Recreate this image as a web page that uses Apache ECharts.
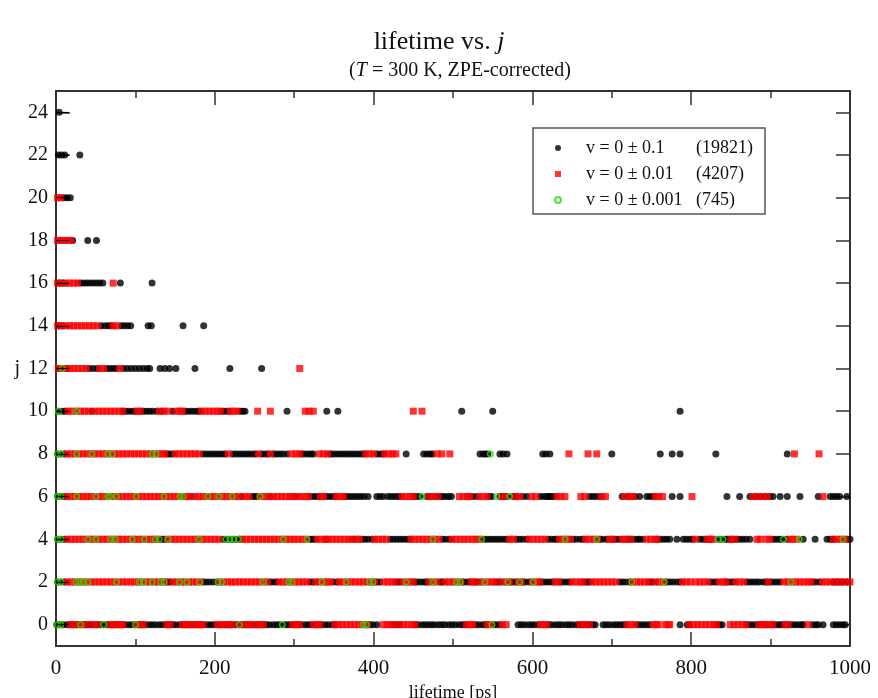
<!DOCTYPE html>
<html><head><meta charset="utf-8">
<script src="https://cdn.jsdelivr.net/npm/echarts@6/dist/echarts.min.js"></script>
<style>html,body{margin:0;padding:0;background:#fff}#c{width:878px;height:698px}</style>
</head><body><div id="c"></div>
<script>
// j rows (y values)
const rows = [0, 2, 4, 6, 8, 10, 12, 14, 16, 18, 20, 22, 24];
const yTicks = [0, 2, 4, 6, 8, 10, 12, 14, 16, 18, 20, 22, 24];
const xTicks = [0, 200, 400, 600, 800, 1000];
const legendLeft = ['v = 0 \u00b1 0.1', 'v = 0 \u00b1 0.01', 'v = 0 \u00b1 0.001'];
const legendCounts = ['(19821)', '(4207)', '(745)'];
const legendNames = legendLeft.map((s, i) => s + ' ' + legendCounts[i]);

// black set: lifetimes (ps) per j row
const blackJ0 = [1,4,8,13,17,21,26,30,34,39,43,47,52,56,60,64,69,73,78,82,86,91,95,99,104,108,112,117,121,125,130,134,139,143,147,151,156,160,165,169,173,178,182,186,191,195,199,204,208,213,217,221,226,230,234,239,243,247,252,256,261,265,269,274,278,282,287,291,295,300,304,308,313,317,321,326,330,334,339,343,348,352,391,395,399,404,425,429,433,452,456,461,465,469,473,477,482,486,490,495,499,503,508,512,515,528,532,537,541,551,555,559,582,586,590,595,599,603,608,620,624,629,633,637,642,646,650,655,659,663,668,672,676,679,689,693,697,702,706,710,714,717,732,736,740,744,748,786,795,798,832,836,839,870,874,878,882,886,891,895,903,907,911,914,918,922,927,931,935,939,941,953,957,960,966,979,983,987,991,994];
const blackJ2 = [2,6,11,140,144,185,189,193,198,203,270,274,278,320,324,349,354,404,408,429,433,452,456,460,464,467,484,487,513,517,521,527,531,555,559,572,576,580,588,592,597,610,614,618,622,626,635,639,643,647,666,669,672,710,714,718,723,748,752,769,773,777,782,786,824,828,832,845,849,853,870,874,878,882,886,891,895,900,904,908,912,953,957,962,979,983,987,991,996];
const blackJ4 = [2,6,11,131,134,137,210,214,218,222,226,230,232,320,323,326,340,375,385,389,393,398,421,425,429,433,437,441,445,487,491,496,536,540,544,548,552,556,560,564,568,580,584,588,593,620,624,628,631,651,655,660,664,685,689,694,702,706,710,719,723,728,732,735,739,757,761,765,769,773,782,790,794,798,802,811,815,819,824,834,838,843,845,849,853,857,861,865,869,874,903,907,911,914,920,941,956,971,975,979,996,1000];
const blackJ6 = [2,6,11,171,234,247,250,253,270,301,320,324,328,332,339,343,347,351,364,368,372,376,380,384,388,393,404,408,412,418,422,426,430,433,450,454,458,467,472,479,484,487,491,495,498,521,525,530,546,549,559,564,568,576,580,588,593,610,614,618,620,622,625,628,672,676,680,685,713,720,729,735,744,748,752,776,786,845,861,874,881,887,893,899,903,912,921,937,960,975,979,983,987,996];
const blackJ8 = [2,6,11,140,143,147,185,189,193,197,201,205,209,213,223,227,231,235,239,243,247,251,259,263,267,274,278,282,286,291,309,313,317,321,324,345,348,352,356,360,364,368,372,376,380,384,388,404,408,412,441,463,467,471,474,534,538,541,544,559,563,568,613,617,622,700,761,776,786,831,921];
const blackJ10 = [3,8,12,45,84,88,92,96,100,106,110,114,118,122,127,133,147,162,166,170,174,178,181,209,213,217,232,235,238,291,341,355,511,550,786];
const blackJ12 = [5,10,14,42,47,52,64,68,72,76,85,90,95,100,105,110,115,118,131,137,143,151,175,219,259];
const blackJ14 = [3,8,57,62,66,70,82,86,90,94,116,120,160,186];
const blackJ16 = [4,9,31,35,39,43,47,51,55,59,81,121];
const blackJ18 = [21,40,51];
const blackJ20 = [10,14,18];
const blackJ22 = [3,7,11,30];
const blackJ24 = [4];

// red set
const redJ0 = [18,23,28,33,38,47,52,68,73,77,81,84,102,106,110,140,144,159,164,168,173,178,182,185,203,208,213,218,223,232,237,242,247,253,257,261,298,303,307,324,329,332,351,356,361,366,371,376,381,386,392,412,417,421,425,433,438,443,448,452,517,521,525,543,547,562,567,610,614,618,660,666,672,719,724,729,752,756,758,767,771,773,798,803,808,813,818,823,828,832,849,854,859,864,869,885,890,895,899,903,918,922,947];
const redJ2 = [14,19,24,29,34,39,44,49,54,59,64,69,74,79,84,89,94,99,104,109,114,119,124,129,134,137,147,152,157,162,167,172,177,182,206,211,216,221,226,231,236,241,246,251,256,261,266,281,286,291,296,301,306,311,316,327,332,337,342,346,357,362,367,372,377,382,387,392,397,401,413,418,423,427,436,441,446,450,470,475,480,490,495,500,505,510,523,526,534,539,544,549,553,562,567,571,582,586,600,605,609,629,633,650,655,660,664,675,680,685,690,695,700,705,726,731,736,741,746,755,760,765,789,794,799,806,811,816,821,835,840,844,856,861,866,897,917,922,927,932,937,942,947,951,965,970,975,981,987,993,1000];
const redJ4 = [14,19,24,29,34,39,44,49,54,59,64,69,74,79,84,89,94,99,104,109,114,119,124,127,140,145,150,155,160,165,170,175,180,185,190,195,200,205,235,240,245,250,255,260,265,270,275,280,285,290,295,300,305,310,315,329,334,339,343,348,353,358,363,368,372,378,382,401,406,411,416,447,452,457,462,467,472,477,482,499,504,509,514,519,524,529,533,571,576,596,601,606,611,616,634,639,644,648,667,672,677,682,697,701,713,717,724,744,749,754,757,805,820,824,827,850,855,883,887,895,899,924,928,933,979,984,989,994];
const redJ6 = [14,19,24,29,34,39,44,49,54,59,64,69,74,79,84,89,94,99,104,109,114,119,124,129,134,139,144,149,154,159,164,167,175,180,185,190,195,200,205,210,215,220,225,230,238,243,257,262,267,274,279,284,289,294,298,305,309,314,318,333,337,353,358,362,436,441,446,450,470,476,481,508,513,518,521,533,538,543,561,566,578,584,599,604,631,636,641,661,666,687,692,716,722,727,755,759,764,801,878,884,890,896,966];
const redJ8 = [14,19,24,29,34,39,44,49,54,59,64,69,74,79,84,89,94,99,104,109,114,119,124,129,134,137,150,155,160,165,170,175,180,217,255,270,297,302,307,332,337,342,390,395,400,414,419,424,428,480,486,496,646,670,681,930,961];
const redJ10 = [15,20,26,31,36,41,49,54,59,64,69,74,79,84,102,106,130,136,141,152,156,159,183,188,193,198,203,207,219,224,228,254,270,314,319,324,450,461];
const redJ12 = [3,8,13,18,23,28,33,38,55,60,80,307];
const redJ14 = [2,7,12,17,22,27,32,37,42,47,52,72,77];
const redJ16 = [2,7,12,17,22,27,72];
const redJ18 = [2,6,10,14,18];
const redJ20 = [2,6];

// green set
const greenJ0 = [2,6,31,60,100,231,285,387,391,549];
const greenJ2 = [2,6,25,29,34,40,76,105,110,121,132,136,156,165,181,204,209,261,293,297,335,366,395,399,441,475,505,509,540,569,584,601,725,766,926];
const greenJ4 = [2,6,40,50,69,74,96,111,125,130,141,180,214,219,224,230,286,316,475,536,641,681,834,840,916,936,991];
const greenJ6 = [2,6,26,50,65,68,76,101,136,156,160,191,205,222,257,461,555,571];
const greenJ8 = [2,6,26,45,65,71,121,126,547];
const greenJ10 = [3,26];
const greenJ12 = [8];

// short line stubs near zero lifetime, one per row
const stubLen = [16,16,16,16,16,16,16,16,16,16,16,16,16];

const blackRows = [blackJ0,blackJ2,blackJ4,blackJ6,blackJ8,blackJ10,blackJ12,blackJ14,blackJ16,blackJ18,blackJ20,blackJ22,blackJ24];
const redRows = [redJ0,redJ2,redJ4,redJ6,redJ8,redJ10,redJ12,redJ14,redJ16,redJ18,redJ20,[],[]];
const greenRows = [greenJ0,greenJ2,greenJ4,greenJ6,greenJ8,greenJ10,greenJ12,[],[],[],[],[],[]];

function build(list) {
  const out = [];
  list.forEach((xs, i) => xs.forEach(x => out.push([x, rows[i]])));
  return out;
}

const FONT = 'Liberation Serif';
const axisCol = '#333';
const chart = echarts.init(document.getElementById('c'), null, {renderer: 'canvas'});

const xBase = {
  type: 'value', min: 0, max: 1000, interval: 200,
  axisLine: {show: true, onZero: false, lineStyle: {color: axisCol, width: 2}},
  axisTick: {show: true, inside: true, length: 14, lineStyle: {color: axisCol, width: 1.5}},
  minorTick: {show: true, splitNumber: 2, length: 7, lineStyle: {color: axisCol, width: 1.5}},
  splitLine: {show: false}
};
const yBase = {
  type: 'value', min: -1, max: 25,
  axisLine: {show: true, onZero: false, lineStyle: {color: axisCol, width: 2}},
  axisTick: {show: true, inside: true, length: 14, customValues: yTicks, lineStyle: {color: axisCol, width: 1.5}},
  splitLine: {show: false}
};

chart.setOption({
  animation: false,
  backgroundColor: '#fff',
  title: [
    {text: 'lifetime vs. {i|j}', left: 'center', top: 24,
     textStyle: {fontFamily: FONT, fontSize: 26, fontWeight: 'normal', color: '#111',
       rich: {i: {fontFamily: FONT, fontSize: 26, fontStyle: 'italic', color: '#111'}}}},
    {text: '({i|T} = 300 K, ZPE-corrected)', left: 455, textAlign: 'center', top: 56,
     textStyle: {fontFamily: FONT, fontSize: 20, fontWeight: 'normal', color: '#111',
       rich: {i: {fontFamily: FONT, fontSize: 20, fontStyle: 'italic', color: '#111'}}}}
  ],
  grid: {left: 56, right: 28, top: 91, bottom: 52, containLabel: false, outerBoundsMode: 'none'},
  xAxis: [
    Object.assign({}, xBase, {position: 'bottom',
      axisLabel: {show: true, margin: 12, fontFamily: FONT, fontSize: 21, color: '#111',
        customValues: xTicks, formatter: v => String(v)},
      name: 'lifetime [ps]', nameLocation: 'middle', nameGap: 35,
      nameTextStyle: {fontFamily: FONT, fontSize: 18, color: '#111'}}),
    Object.assign({}, xBase, {position: 'top', axisLabel: {show: false}})
  ],
  yAxis: [
    Object.assign({}, yBase, {position: 'left',
      axisLabel: {show: true, margin: 8, fontFamily: FONT, fontSize: 20, color: '#111', customValues: yTicks},
      name: 'j', nameLocation: 'middle', nameRotate: 0, nameGap: 36,
      nameTextStyle: {fontFamily: FONT, fontSize: 20, color: '#111'}}),
    Object.assign({}, yBase, {position: 'right', axisLabel: {show: false}})
  ],
  legend: {
    orient: 'vertical', left: 533, top: 128,
    padding: [11, 12, 5, 21], itemGap: 8, itemWidth: 6, itemHeight: 6,
    borderColor: '#555', borderWidth: 1.5, backgroundColor: '#fff',
    formatter: name => {
      const i = legendNames.indexOf(name);
      return '{a|' + legendLeft[i] + '}{b|' + legendCounts[i] + '}';
    },
    textStyle: {fontFamily: FONT, fontSize: 18, color: '#111', lineHeight: 17, padding: [0, 0, 0, 20],
      rich: {a: {fontFamily: FONT, fontSize: 18, color: '#111', width: 110},
             b: {fontFamily: FONT, fontSize: 18, color: '#111'}}},
    data: [
      {name: legendNames[0], icon: 'circle'},
      {name: legendNames[1], icon: 'rect'},
      {name: legendNames[2], icon: 'circle'}
    ]
  },
  series: [
    {name: legendNames[0], type: 'scatter', data: build(blackRows), symbol: 'circle', symbolSize: 7,
     itemStyle: {color: '#000'}, z: 2,
     markLine: {silent: true, symbol: 'none', label: {show: false}, lineStyle: {color: '#000', width: 1.2, type: 'solid'},
       data: rows.map((j, i) => [{coord: [0, j]}, {coord: [stubLen[i], j]}])}},
    {name: legendNames[1], type: 'scatter', data: build(redRows), symbol: 'rect', symbolSize: 7,
     itemStyle: {color: '#ff0000'}, z: 3},
    {name: legendNames[2], type: 'scatter', data: build(greenRows), symbol: 'circle', symbolSize: 5.5,
     itemStyle: {color: '#ffffff00', borderColor: '#22dd00', borderWidth: 1.5}, z: 4}
  ]
});
</script>
</body></html>
